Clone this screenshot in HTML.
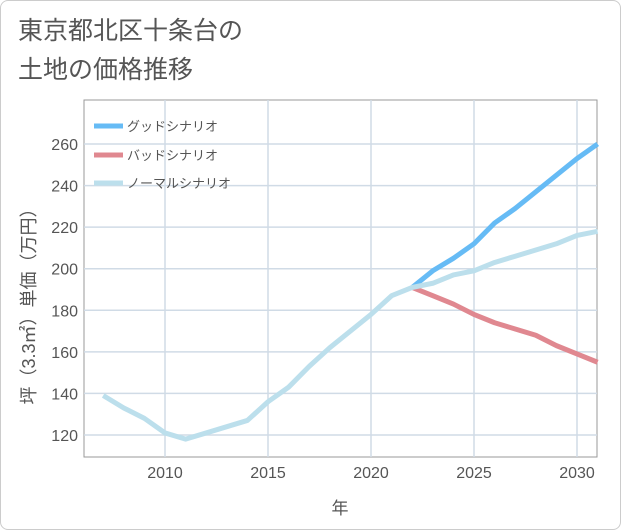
<!DOCTYPE html>
<html><head><meta charset="utf-8"><style>
body{margin:0;background:#fff;}
#wrap{position:relative;width:619px;height:528px;border:1px solid #ccc;border-radius:8px;overflow:hidden;font-family:"Liberation Sans","Noto Sans CJK JP",sans-serif;background:#fff}
.title{position:absolute;left:17px;font-size:25px;color:#555;line-height:30px}
</style></head><body>
<div id="wrap">
<div class="title" style="top:15px">東京都北区十条台の</div>
<div class="title" style="top:54px">土地の価格推移</div>
<svg id="svg" width="621" height="530" style="position:absolute;left:-1px;top:-1px"></svg>
</div>
<script>
const years=[2007,2008,2009,2010,2011,2012,2013,2014,2015,2016,2017,2018,2019,2020,2021,2022,2023,2024,2025,2026,2027,2028,2029,2030,2031];
const normal=[139,133,128,121,118,121,124,127,136,143,153,162,170,178,187,191,193,197,199,203,206,209,212,216,218];
const goodYears=[2022,2023,2024,2025,2026,2027,2028,2029,2030,2031];
const good=[191,199,205,212,222,229,237,245,253,260];
const bad=[191,187,183,178,174,171,168,163,159,155];
const xTicks=[2010,2015,2020,2025,2030];
const yTicks=[120,140,160,180,200,220,240,260];
const NS='http://www.w3.org/2000/svg';
const svg=document.getElementById('svg');
const L=84,R=597,T=100,B=457;
const x=v=>165+(v-2010)*20.6;
const y=v=>435-(v-120)*2.0786;
function el(t,a,p){const e=document.createElementNS(NS,t);for(const k in a)e.setAttribute(k,a[k]);(p||svg).appendChild(e);return e;}
const frame=el('rect',{x:L,y:T,width:R-L,height:B-T,fill:'none',stroke:'#999','stroke-width':1});


xTicks.forEach(t=>{
 const g=el('line',{x1:x(t),x2:x(t),y1:T,y2:B,stroke:'#d0dbe6','stroke-width':1.5});
 
 
 const tx=el('text',{x:x(t),y:478,'text-anchor':'middle','font-size':16,fill:'#555'});
 tx.textContent=t;
 
 
});
yTicks.forEach(t=>{
 const g=el('line',{x1:L,x2:R,y1:y(t),y2:y(t),stroke:'#d0dbe6','stroke-width':1.5});
 
 
 const tx=el('text',{x:78,y:y(t)+6,'text-anchor':'end','font-size':16,fill:'#555'});
 tx.textContent=t;
 
 
});
function line(xs,vs,color,name){
 const p=el('polyline',{points:xs.map((v,i)=>x(v)+','+y(vs[i])).join(' '),fill:'none',stroke:color,'stroke-width':5,'stroke-linejoin':'round'});
 
 
}
line(goodYears,good,'#66bbf5','good-scenario-line');
line(goodYears,bad,'#e08890','bad-scenario-line');
line(years,normal,'#bcdfec','normal-scenario-line');
const leg=[['グッドシナリオ','#66bbf5',126],['バッドシナリオ','#e08890',155],['ノーマルシナリオ','#bcdfec',183]];
leg.forEach(([n,c,yy])=>{
 const g=el('g',{});
 
 
 el('line',{x1:94,x2:123,y1:yy,y2:yy,stroke:c,'stroke-width':5},g);
 const t=el('text',{x:127,y:yy+5,'font-size':13,fill:'#555'},g);
 t.textContent=n;
});
const xt=el('text',{x:340,y:514,'text-anchor':'middle','font-size':17,fill:'#555'});
xt.textContent='年';


const yt=el('text',{x:0,y:0,'text-anchor':'middle','font-size':18,fill:'#555',transform:'translate(35,302) rotate(-90)'});
yt.textContent='坪（3.3㎡）単価（万円）';


</script>
</body></html>
